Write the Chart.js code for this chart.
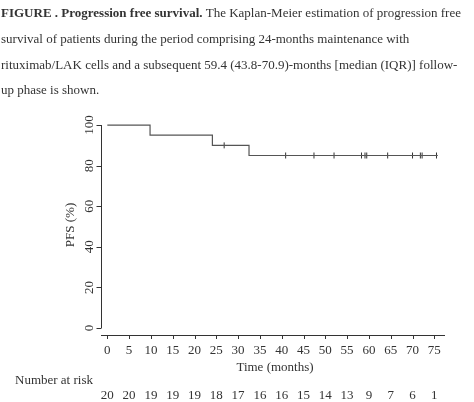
<!DOCTYPE html>
<html>
<head>
<meta charset="utf-8">
<script src="https://cdn.jsdelivr.net/npm/chart.js@4"></script>
<style>
  html, body { margin: 0; padding: 0; background: #fff; }
  #wrap { width: 474px; height: 402px; position: relative; }
</style>
</head>
<body>
<div id="wrap"><canvas id="km"></canvas></div>
<script>
// Kaplan-Meier steps (time in months, PFS %)
const stepTimes = [0, 9.8, 24.1, 32.5, 75.8];
const stepPfs = [100, 95, 90, 85, 85];
// censored observations
const censorTimes = [26.8, 40.9, 47.4, 52, 58.3, 59.1, 59.5, 64.3, 70, 71.8, 72.2, 75.5];
const censorPfs = [90, 85, 85, 85, 85, 85, 85, 85, 85, 85, 85, 85];
// axes
const xTicks = [0, 5, 10, 15, 20, 25, 30, 35, 40, 45, 50, 55, 60, 65, 70, 75];
const yTicks = [0, 20, 40, 60, 80, 100];
const atRisk = [20, 20, 19, 19, 19, 18, 17, 16, 16, 15, 14, 13, 9, 7, 6, 1];

const captionLines = [
    "survival of patients during the period comprising 24-months maintenance with",
    "rituximab/LAK cells and a subsequent 59.4 (43.8-70.9)-months [median (IQR)] follow-",
    "up phase is shown."
];

const FONT = "'Liberation Serif', 'DejaVu Serif', serif";
const INK = "#333";

const rAxes = {
    id: "rAxes",
    afterDraw(chart) {
        const ctx = chart.ctx;
        const x = chart.scales.x, y = chart.scales.y;
        ctx.save();
        ctx.fillStyle = INK;
        ctx.strokeStyle = INK;
        ctx.lineWidth = 1;
        ctx.textBaseline = "alphabetic";

        // caption
        ctx.font = "bold 13px " + FONT;
        const head = "FIGURE . Progression free survival.";
        ctx.fillText(head, 1, 17);
        const w = ctx.measureText(head).width;
        ctx.font = "13px " + FONT;
        ctx.fillText(" The Kaplan-Meier estimation of progression free", 1 + w, 17);
        captionLines.forEach((t, i) => ctx.fillText(t, 1, 43 + i * 25.5));

        // x axis
        const ax = chart.chartArea;
        ctx.beginPath();
        ctx.moveTo(ax.left, ax.bottom + 0.5);
        ctx.lineTo(ax.right, ax.bottom + 0.5);
        for (const t of xTicks) {
            const px = Math.round(x.getPixelForValue(t)) + 0.5;
            ctx.moveTo(px, ax.bottom);
            ctx.lineTo(px, ax.bottom + 4);
        }
        ctx.stroke();
        ctx.font = "13px " + FONT;
        ctx.textAlign = "center";
        xTicks.forEach((t, i) => {
            const px = x.getPixelForValue(t);
            ctx.fillText(String(t), px, 354);
            ctx.fillText(String(atRisk[i]), px, 399);
        });
        ctx.fillText("Time (months)", 275, 371);
        ctx.textAlign = "left";
        ctx.fillText("Number at risk", 15, 384);

        // y axis (spans only 0-100)
        const yx = ax.left + 0.5;
        ctx.beginPath();
        ctx.moveTo(yx, y.getPixelForValue(0));
        ctx.lineTo(yx, y.getPixelForValue(100));
        for (const t of yTicks) {
            const py = Math.round(y.getPixelForValue(t)) + 0.5;
            ctx.moveTo(yx, py);
            ctx.lineTo(yx - 5, py);
        }
        ctx.stroke();
        ctx.textAlign = "center";
        for (const t of yTicks) {
            ctx.save();
            ctx.translate(93, y.getPixelForValue(t));
            ctx.rotate(-Math.PI / 2);
            ctx.fillText(String(t), 0, 0);
            ctx.restore();
        }
        ctx.save();
        ctx.translate(74, 225);
        ctx.rotate(-Math.PI / 2);
        ctx.fillText("PFS (%)", 0, 0);
        ctx.restore();
        ctx.restore();
    }
};

new Chart(document.getElementById("km"), {
    type: "line",
    data: {
        datasets: [
            {
                data: stepTimes.map((t, i) => ({ x: t, y: stepPfs[i] })),
                stepped: "before",
                borderColor: "#555",
                borderWidth: 1.2,
                pointRadius: 0,
                fill: false
            },
            {
                data: censorTimes.map((t, i) => ({ x: t, y: censorPfs[i] })),
                showLine: false,
                pointStyle: "line",
                rotation: 90,
                radius: 3,
                borderColor: "#333",
                borderWidth: 1
            }
        ]
    },
    options: {
        responsive: true,
        maintainAspectRatio: false,
        animation: false,
        events: [],
        layout: { padding: { left: 101, right: 29, top: 120, bottom: 67 } },
        plugins: { legend: { display: false }, tooltip: { enabled: false } },
        scales: {
            x: {
                type: "linear", min: -1.45, max: 77.45,
                display: false
            },
            y: {
                min: -3.45, max: 102.5,
                display: false
            }
        }
    },
    plugins: [rAxes]
});
</script>
</body>
</html>
